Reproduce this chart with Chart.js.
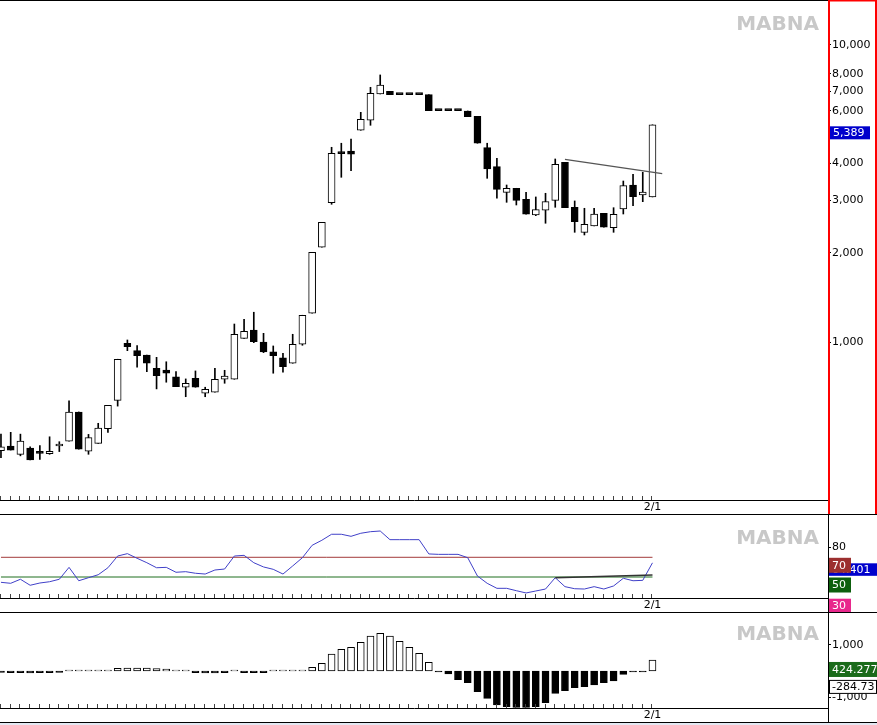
<!DOCTYPE html>
<html><head><meta charset="utf-8">
<script src="https://cdn.jsdelivr.net/npm/chart.js@4.4.1/dist/chart.umd.min.js"></script>
<style>
html,body{margin:0;padding:0;background:#fff;overflow:hidden}
#wrap{position:relative;width:877px;height:725px;background:#fff}
canvas{position:absolute;left:0}
</style></head><body>
<div id="wrap">
<canvas id="c1" width="877" height="514" style="top:0px"></canvas>
<canvas id="c2" width="877" height="98" style="top:514px"></canvas>
<canvas id="c3" width="877" height="113" style="top:612px"></canvas>
</div>
<script>
// ---------------- DATA ----------------
const openP  = [432,448,420,441,424,422,448,465,583,430,457,512,638,992,937,906,818,807,766,706,757,674,679,751,751,1031,1100,1002,928,886,850,985,1252,2087,2949,4356,4400,5166,5581,6842,6987,6805,6805,6805,6805,6012,6012,6012,5998,5750,4514,3897,3195,3296,3027,2680,2780,3003,4032,2845,2344,2461,2716,2429,2808,3381,3130,3082];
const highP  = [491,498,491,445,449,481,463,635,583,490,534,614,877,1018,974,906,890,860,797,753,801,706,818,805,1152,1195,1262,1072,972,918,1064,1233,2007,2533,4528,4672,4826,5937,7206,7929,6987,6805,6805,6805,6805,6012,6012,6012,5998,5750,4672,4158,3381,3296,3195,3082,3171,4136,4032,2988,2823,2823,2716,2836,3487,3674,3731,5389];
const lowP   = [409,434,415,402,404,420,429,465,437,420,457,498,610,937,824,797,697,734,709,656,706,656,679,728,751,1031,997,923,787,793,850,977,1252,2087,2912,3589,3778,5166,5369,6842,6805,6805,6805,6805,6012,6012,6012,6012,5740,4672,3561,3051,2957,2896,2695,2666,2514,2845,2836,2344,2296,2461,2437,2344,2701,2881,2971,3082];
const closeP = [445,434,465,402,423,430,450,583,437,478,515,614,877,967,901,850,772,787,709,728,706,695,751,769,1064,1089,1005,928,901,828,985,1233,2007,2533,4322,4309,4289,5625,6879,7337,6805,6805,6805,6805,6012,6012,6012,6012,5740,4672,3828,3270,3296,3003,2695,2793,2971,3970,2836,2545,2494,2701,2437,2695,3363,3089,3203,5389];
const rsiVals = [44.6,43.6,47.7,41.6,43.9,45.2,47.7,59.8,46.2,49.3,52.3,59.4,71.3,73.7,69.0,64.5,59.4,59.8,54.8,55.4,53.8,53.0,57.1,58.1,71.3,72.0,64.5,60.2,57.8,53.0,61.2,69.6,82.2,87.3,93.4,93.4,91.3,94.4,96.0,96.7,87.9,87.9,87.9,87.9,73.4,73.0,73.0,73.0,69.6,51.0,43.6,38.5,38.5,36.1,33.8,35.8,37.8,49.3,40.2,38.1,37.8,40.2,37.8,40.9,48.7,46.2,46.6,64.401];
const macdHist = [-50,-60,-60,-70,-60,-60,-50,10,10,15,15,20,100,110,110,110,90,70,40,5,-60,-70,-70,-60,5,-60,-60,-60,10,10,15,20,142,296,654,835,912,1104,1346,1450,1346,1142,912,681,335,-40,-115,-330,-450,-795,-1050,-1308,-1372,-1397,-1397,-1372,-1218,-859,-756,-641,-603,-538,-449,-385,-128,-40,-20,424.277];
const priceTrend = [{x:58, y:4126}, {x:68, y:3690}];
const rsiTrend = [{x:57, y:49.3}, {x:67, y:52.0}];
const rsiLevels = [70, 50, 30];
const priceTicks = [1000,2000,3000,4000,6000,7000,8000,10000];
const rsiTicks = [80];
const macdTicks = [1000,-1000];
const dateLabel = '2/1';
const dateLabelIndex = 67;
const lastPriceLabel = '5,389';
const lastRsiLabel = '64.401';
const macdLabel = '424.277';
const signalLabel = '-284.73';
const signalValue = -284.73;
const watermark = 'MABNA';
const idx = openP.map((_, i) => i);

// ---------------- LAYOUT ----------------
const FONT = "'DejaVu Sans', Verdana, sans-serif";
Chart.defaults.font.family = FONT;
Chart.defaults.font.size = 11;
Chart.defaults.color = '#000';
const X_MIN = -0.1, X_MAX = 85.05, AXIS_W = 49;

function xScale(h) {
  return {
    type: 'linear', min: X_MIN, max: X_MAX, offset: false,
    grid: {display: false, drawTicks: false},
    border: {display: true, color: '#000', width: 1},
    ticks: {color: '#000', padding: 1, autoSkip: false, maxRotation: 0, font: {size: 11},
      callback: v => v === dateLabelIndex ? dateLabel : ''},
    afterBuildTicks: s => { s.ticks = [{value: dateLabelIndex}]; },
    afterFit: s => { s.height = h; s.paddingLeft = 0; s.paddingRight = 0; }
  };
}
function yScale(extra, ticks) {
  return Object.assign({
    position: 'right',
    grid: {display: true, drawOnChartArea: false, drawTicks: true, tickLength: 3, color: '#000'},
    border: {display: false},
    ticks: {color: '#000', padding: 1, autoSkip: false, font: {size: 11},
      callback: v => Number(v).toLocaleString('en-US')},
    afterBuildTicks: s => { s.ticks = ticks.map(v => ({value: v})); },
    afterFit: s => { s.width = AXIS_W; s.paddingTop = 0; s.paddingBottom = 0; }
  }, extra);
}
const baseOpts = {
  responsive: false, animation: false, devicePixelRatio: 1, events: [],
  layout: {padding: 0, autoPadding: false},
  plugins: {legend: {display: false}, tooltip: {enabled: false}}
};

function drawWatermark(chart, y) {
  const ctx = chart.ctx;
  ctx.save();
  ctx.font = 'bold 20px ' + FONT;
  ctx.fillStyle = '#c8c8c8';
  ctx.textAlign = 'right'; ctx.textBaseline = 'middle';
  ctx.fillText(watermark, 819, y);
  ctx.restore();
}
function drawTickMarks(chart) {
  const ctx = chart.ctx, xs = chart.scales.x, b = chart.chartArea.bottom;
  ctx.save();
  ctx.strokeStyle = '#444'; ctx.lineWidth = 1;
  ctx.beginPath();
  idx.forEach(i => {
    const px = Math.round(xs.getPixelForValue(i)) - 0.5;
    ctx.moveTo(px, b - 4); ctx.lineTo(px, b);
  });
  ctx.stroke();
  ctx.restore();
}
function box(ctx, x, y, w, h, fill, text, textColor, stroke) {
  ctx.fillStyle = fill; ctx.fillRect(x, y, w, h);
  if (stroke) { ctx.strokeStyle = stroke; ctx.lineWidth = 1; ctx.strokeRect(x + 0.5, y + 0.5, w - 1, h - 1); }
  ctx.fillStyle = textColor; ctx.font = '11px ' + FONT;
  ctx.textAlign = 'left'; ctx.textBaseline = 'middle';
  ctx.fillText(text, x + 3, y + h / 2 + 0.5);
}

// ---------------- MAIN (candles) ----------------
const up = idx.map(i => closeP[i] > openP[i]);
new Chart(document.getElementById('c1'), {
  type: 'bar',
  data: {
    labels: idx,
    datasets: [
      {type: 'line', data: priceTrend, borderColor: '#555', borderWidth: 1.3, pointRadius: 0, order: 0},
      {data: idx.map(i => [openP[i], closeP[i]]), grouped: false, barThickness: 7, minBarLength: 2,
       backgroundColor: idx.map(i => up[i] ? '#fff' : '#000'), borderColor: '#000', borderWidth: 1,
       borderSkipped: false, order: 1},
      {data: idx.map(i => [lowP[i], highP[i]]), grouped: false, barThickness: 1,
       backgroundColor: '#000', borderWidth: 0, order: 2}
    ]
  },
  options: Object.assign({}, baseOpts, {
    scales: {
      x: xScale(14),
      y: yScale({type: 'logarithmic', min: 294.8, max: 14168}, priceTicks)
    }
  }),
  plugins: [{
    id: 'mainDeco',
    beforeDatasetsDraw(chart) { drawWatermark(chart, 24.5); },
    afterDraw(chart) {
      const ctx = chart.ctx;
      drawTickMarks(chart);
      ctx.save();
      ctx.fillStyle = '#000'; ctx.fillRect(0, 0, 828, 1);
      ctx.fillStyle = '#ff0000';
      ctx.fillRect(828, 0, 2, 514); ctx.fillRect(875, 0, 2, 514); ctx.fillRect(828, 0, 49, 1.5);
      const y = chart.scales.y.getPixelForValue(closeP[closeP.length - 1]);
      box(ctx, 830, y + 1.5, 40, 13, '#0000cc', lastPriceLabel, '#fff');
      ctx.restore();
    }
  }]
});

// ---------------- RSI ----------------
new Chart(document.getElementById('c2'), {
  type: 'line',
  data: {
    labels: idx,
    datasets: [
      {data: rsiTrend, borderColor: '#333', borderWidth: 1.5, pointRadius: 0, order: 0},
      {data: rsiVals, borderColor: '#4040c8', borderWidth: 1, pointRadius: 0, tension: 0, order: 1},
      {data: [{x: 0, y: rsiLevels[0]}, {x: dateLabelIndex, y: rsiLevels[0]}], borderColor: '#a33a3a', borderWidth: 1, pointRadius: 0, order: 2},
      {data: [{x: 0, y: rsiLevels[1]}, {x: dateLabelIndex, y: rsiLevels[1]}], borderColor: '#1e6e1e', borderWidth: 1, pointRadius: 0, order: 3}
    ]
  },
  options: Object.assign({}, baseOpts, {
    scales: {
      x: xScale(14),
      y: yScale({type: 'linear', min: 28.68, max: 113.96}, rsiTicks)
    }
  }),
  plugins: [{
    id: 'rsiDeco',
    beforeDatasetsDraw(chart) { drawWatermark(chart, 24.7); },
    afterDraw(chart) {
      const ctx = chart.ctx, ys = chart.scales.y;
      drawTickMarks(chart);
      ctx.save();
      ctx.fillStyle = '#000'; ctx.fillRect(0, 0, 877, 1); ctx.fillRect(828, 0, 1, 98);
      const yl = ys.getPixelForValue(rsiVals[rsiVals.length - 1]);
      box(ctx, 829, yl + 0.5, 48, 12.5, '#0000cc', lastRsiLabel, '#fff');
      box(ctx, 829, ys.getPixelForValue(rsiLevels[0]) + 0.5, 22, 15, '#9c2f2f', String(rsiLevels[0]), '#fff');
      box(ctx, 829, ys.getPixelForValue(rsiLevels[1]) + 0.5, 22, 15, '#0d5f0d', String(rsiLevels[1]), '#fff');
      const y30 = ys.getPixelForValue(rsiLevels[2]) + 2;
      box(ctx, 829, y30, 22, 98 - y30, '#e8288c', String(rsiLevels[2]), '#fff');
      ctx.restore();
    }
  }]
});

// ---------------- MACD histogram ----------------
new Chart(document.getElementById('c3'), {
  type: 'bar',
  data: {
    labels: idx,
    datasets: [
      {data: macdHist, barThickness: 7, minBarLength: 1,
       backgroundColor: macdHist.map(v => v >= 0 ? '#fff' : '#000'), borderColor: '#000', borderWidth: 1,
       borderSkipped: false}
    ]
  },
  options: Object.assign({}, baseOpts, {
    scales: {
      x: xScale(17),
      y: yScale({type: 'linear', min: -1423, max: 2269}, macdTicks)
    }
  }),
  plugins: [{
    id: 'macdDeco',
    beforeDatasetsDraw(chart) { drawWatermark(chart, 23); },
    afterDraw(chart) {
      const ctx = chart.ctx, ys = chart.scales.y;
      drawTickMarks(chart);
      ctx.save();
      ctx.fillStyle = '#000';
      ctx.fillRect(0, 0, 877, 1); ctx.fillRect(828, 0, 1, 110); ctx.fillRect(0, 110, 877, 1);
      ctx.fillStyle = '#e3e8f2'; ctx.fillRect(0, 111, 877, 2);
      const yg = ys.getPixelForValue(macdHist[macdHist.length - 1]);
      box(ctx, 829, yg + 2, 48, 15, '#1a6b1a', macdLabel, '#fff');
      const ys2 = ys.getPixelForValue(signalValue);
      box(ctx, 829, ys2 + 1.5, 48, 14, '#fff', signalLabel, '#000', '#000');
      ctx.restore();
    }
  }]
});
</script>
</body></html>
